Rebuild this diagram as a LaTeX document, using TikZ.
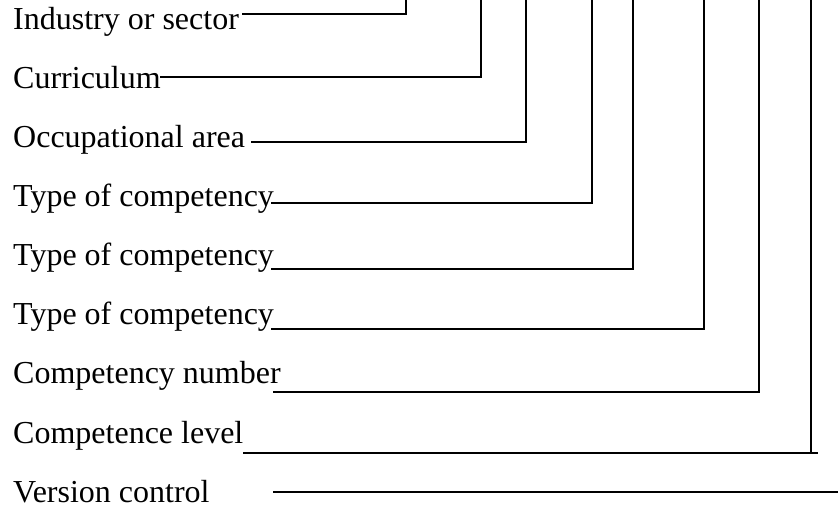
\documentclass[tikz,border=0pt]{standalone}
\usepackage{fontspec}
\setmainfont{Liberation Serif}
\begin{document}
\begin{tikzpicture}[x=1pt,y=-1pt,
  lbl/.style={anchor=base west,inner sep=0pt,font=\fontsize{32}{38}\selectfont},
  conn/.style={line width=1.6pt,line cap=rect}]
\useasboundingbox (0,0) rectangle (838,510);
% labels
\node[lbl] (l1) at (13,30) {Industry or sector};
\node[lbl] (l2) at (13,89) {Curriculum};
\node[lbl] (l3) at (13,148) {Occupational area};
\node[lbl] (l4) at (13,207) {Type of competency};
\node[lbl] (l5) at (13,266) {Type of competency};
\node[lbl] (l6) at (13,325) {Type of competency};
\node[lbl] (l7) at (13,384) {Competency number};
\node[lbl] (l8) at (13,443) {Competence level};
\node[lbl] (l9) at (13,502) {Version control};
% line starts
\coordinate (s1) at (243,14);
\coordinate (s2) at (161,77);
\coordinate (s3) at (252,142);
\coordinate (s4) at (272,203);
\coordinate (s5) at (272,269);
\coordinate (s6) at (272,329);
\coordinate (s7) at (274,392);
\coordinate (s8) at (244,453);
\coordinate (s9) at (274,492);
% top ends
\coordinate (t1) at (406,0);
\coordinate (t2) at (481,0);
\coordinate (t3) at (526,0);
\coordinate (t4) at (592,0);
\coordinate (t5) at (633,0);
\coordinate (t6) at (704,0);
\coordinate (t7) at (759,0);
\coordinate (t8) at (811,0);
\coordinate (e8) at (817,453);
\coordinate (e9) at (838,492);
% connectors
\draw[conn] (s1) -| (t1);
\draw[conn] (s2) -| (t2);
\draw[conn] (s3) -| (t3);
\draw[conn] (s4) -| (t4);
\draw[conn] (s5) -| (t5);
\draw[conn] (s6) -| (t6);
\draw[conn] (s7) -| (t7);
\draw[conn] (s8) -- (e8);
\draw[conn] (t8) -- (t8 |- e8);
\draw[conn] (s9) -- (e9);
\end{tikzpicture}
\end{document}
